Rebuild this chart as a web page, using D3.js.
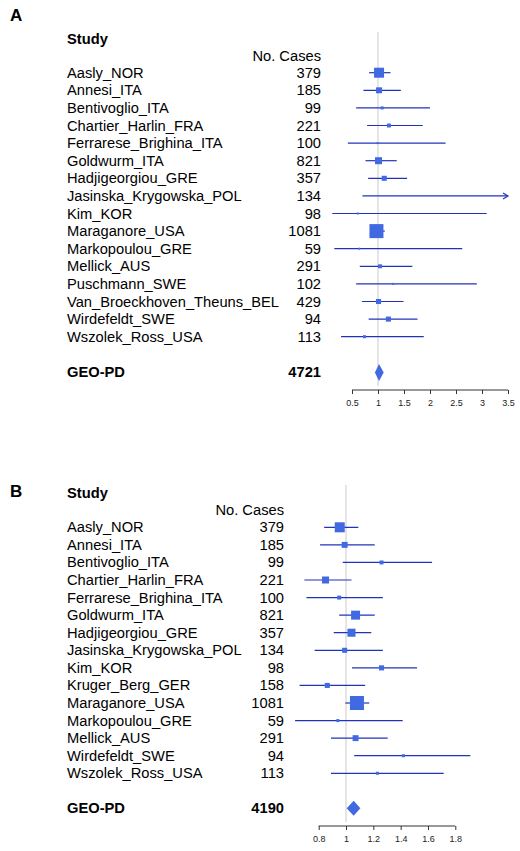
<!DOCTYPE html>
<html><head><meta charset="utf-8">
<script src="https://cdn.jsdelivr.net/npm/d3@7"></script>
<style>
body{margin:0;background:#fff;}
svg{display:block;font-family:"Liberation Sans",Arial,Helvetica,sans-serif;}
</style></head>
<body><svg id="c" width="520" height="851"></svg>
<script>
// ---------- Panel A data ----------
const studiesA = ["Aasly_NOR","Annesi_ITA","Bentivoglio_ITA","Chartier_Harlin_FRA","Ferrarese_Brighina_ITA","Goldwurm_ITA","Hadjigeorgiou_GRE","Jasinska_Krygowska_POL","Kim_KOR","Maraganore_USA","Markopoulou_GRE","Mellick_AUS","Puschmann_SWE","Van_Broeckhoven_Theuns_BEL","Wirdefeldt_SWE","Wszolek_Ross_USA"];
const casesA = [379,185,99,221,100,821,357,134,98,1081,59,291,102,429,94,113];
const orA    = [1.02,1.02,1.08,1.21,0.99,1.01,1.12,null,0.61,0.97,0.64,1.04,1.29,1.01,1.20,0.74];
const lowerA = [0.83,0.72,0.58,0.79,0.42,0.76,0.81,0.70,0.12,0.85,0.16,0.65,0.58,0.69,0.82,0.29];
const upperA = [1.24,1.44,2.00,1.86,2.30,1.36,1.56,4.50,3.09,1.13,2.62,1.66,2.90,1.49,1.76,1.88];
const weightA = [51,18,4.6,8,2,25,13,0,2,100,2,8,2,13,13,4.6];
const summaryA = {label:"GEO-PD", cases:4721, or:1.02, lower:0.94, upper:1.11};
const ticksA = [0.5,1,1.5,2,2.5,3,3.5];

// ---------- Panel B data ----------
const studiesB = ["Aasly_NOR","Annesi_ITA","Bentivoglio_ITA","Chartier_Harlin_FRA","Ferrarese_Brighina_ITA","Goldwurm_ITA","Hadjigeorgiou_GRE","Jasinska_Krygowska_POL","Kim_KOR","Kruger_Berg_GER","Maraganore_USA","Markopoulou_GRE","Mellick_AUS","Wirdefeldt_SWE","Wszolek_Ross_USA"];
const casesB = [379,185,99,221,100,821,357,134,98,158,1081,59,291,94,113];
const orB    = [0.954,0.99,1.26,0.85,0.95,1.07,1.04,0.99,1.26,0.863,1.08,0.94,1.07,1.42,1.23];
const lowerB = [0.84,0.81,0.976,0.695,0.71,0.95,0.91,0.77,1.044,0.66,0.995,0.627,0.89,1.06,0.89];
const upperB = [1.09,1.21,1.63,1.04,1.27,1.21,1.185,1.27,1.52,1.14,1.17,1.415,1.305,1.91,1.715];
const weightB = [51,18,8,25,8,41,33,13,13,13,100,4.6,18,4.6,4.6];
const summaryB = {label:"GEO-PD", cases:4190, or:1.056, lower:1.005, upper:1.105};
const ticksB = [0.8,1,1.2,1.4,1.6,1.8];

const svg = d3.select("#c");
const lineCol = "#2233bb", boxCol = "#4169e1";
const FS = 14.7;

function panel(o){
  const g = svg.append("g");
  const x = d3.scaleLinear().domain(o.domain).range(o.range);
  const n = o.studies.length;
  const y = d3.scaleLinear().domain([0, n-1]).range([o.y0, o.y0 + (n-1)*o.step]);
  const ySum = y(n-1) + o.sumGap;
  const size = d3.scaleSqrt().domain([0,100]).range([0,14]);

  g.append("text").attr("x",10).attr("y",o.letterY).attr("font-size",17).attr("font-weight","bold").text(o.letter);
  g.append("text").attr("x",67).attr("y",o.studyY).attr("font-size",FS).attr("font-weight","bold").text("Study");
  g.append("text").attr("x",o.numX).attr("y",o.headY).attr("font-size",FS).attr("text-anchor","end").text("No. Cases");

  // reference line
  g.append("line").attr("x1",x(1)).attr("x2",x(1)).attr("y1",o.refTop).attr("y2",o.axisY-4)
    .attr("stroke","#d4d4d4").attr("stroke-width",1.2);

  const rows = o.studies.map((s,i)=>({s, c:o.cases[i], or:o.or[i], lo:o.lower[i], hi:o.upper[i], w:o.weight[i], i}));
  const rg = g.selectAll(".row").data(rows).join("g");
  rg.append("text").attr("x",67).attr("y",d=>y(d.i)+5).attr("font-size",FS).text(d=>d.s);
  rg.append("text").attr("x",o.numX).attr("y",d=>y(d.i)+5).attr("font-size",FS).attr("text-anchor","end").text(d=>d.c);
  const xmax = o.clipMax;
  rg.append("line").attr("x1",d=>x(d.lo)).attr("x2",d=>x(Math.min(d.hi,xmax)))
    .attr("y1",d=>y(d.i)).attr("y2",d=>y(d.i)).attr("stroke",lineCol).attr("stroke-width",1.2);
  rg.filter(d=>d.hi>xmax).append("path")
    .attr("d",d=>{const xe=x(xmax), yy=y(d.i); return `M${xe-5},${yy-3}L${xe},${yy}L${xe-5},${yy+3}`;})
    .attr("fill","none").attr("stroke",lineCol).attr("stroke-width",1.2);
  rg.filter(d=>d.or!=null && d.w>0).append("rect")
    .attr("x",d=>x(d.or)-Math.max(size(d.w),2)/2).attr("y",d=>y(d.i)-Math.max(size(d.w),2)/2)
    .attr("width",d=>Math.max(size(d.w),2)).attr("height",d=>Math.max(size(d.w),2)).attr("fill",boxCol);

  // summary
  const sm = o.summary;
  g.append("text").attr("x",67).attr("y",ySum+5).attr("font-size",FS).attr("font-weight","bold").text(sm.label);
  g.append("text").attr("x",o.numX).attr("y",ySum+5).attr("font-size",FS).attr("font-weight","bold").attr("text-anchor","end").text(sm.cases);
  const h = o.diamondH/2;
  g.append("path").attr("d",`M${x(sm.lower)},${ySum}L${x(sm.or)},${ySum-h}L${x(sm.upper)},${ySum}L${x(sm.or)},${ySum+h}Z`)
    .attr("fill",boxCol);

  // axis
  const ax = g.append("g").attr("transform",`translate(0,${o.axisY})`)
    .call(d3.axisBottom(x).tickValues(o.ticks).tickSize(4).tickSizeOuter(0).tickPadding(6).tickFormat(d3.format("~g")));
  ax.select(".domain").attr("d",`M${x(o.ticks[0])},0H${x(o.ticks[o.ticks.length-1])}`).attr("stroke","#333");
  ax.selectAll(".tick line").attr("stroke","#333");
  ax.selectAll("text").attr("font-size",9).attr("fill","#222").attr("font-family","Liberation Sans, Arial, sans-serif");
}

panel({letter:"A", letterY:21, studyY:44, headY:61, numX:321, y0:72.7, step:17.6, sumGap:35.7,
  studies:studiesA, cases:casesA, or:orA, lower:lowerA, upper:upperA, weight:weightA, summary:summaryA,
  domain:[0.5,3.5], range:[352,508], clipMax:3.5, ticks:ticksA, axisY:390, refTop:32, diamondH:17});

panel({letter:"B", letterY:497, studyY:498, headY:515, numX:284, y0:527.3, step:17.57, sumGap:35,
  studies:studiesB, cases:casesB, or:orB, lower:lowerB, upper:upperB, weight:weightB, summary:summaryB,
  domain:[0.8,1.8], range:[318.7,455.3], clipMax:2.2, ticks:ticksB, axisY:826, refTop:485, diamondH:15});
</script></body></html>
